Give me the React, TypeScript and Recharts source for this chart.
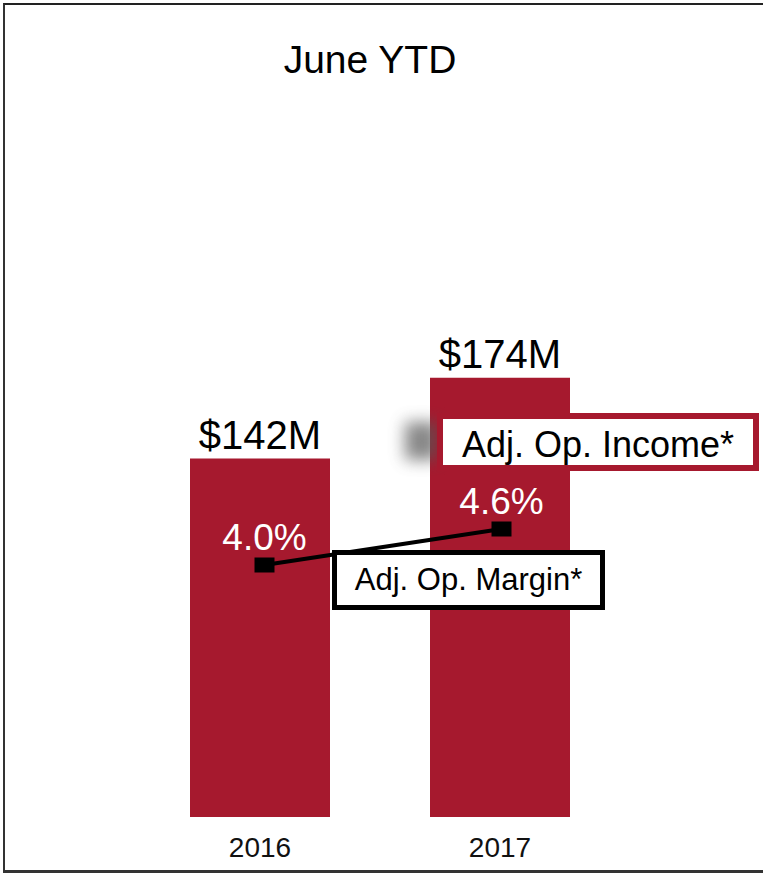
import React from 'react';
import {
  ComposedChart,
  Bar,
  Line,
  XAxis,
  YAxis,
  LabelList,
} from 'recharts';

const YEARS = ['2016', '2017'];
const OP_INCOME = [142, 174]; // $M
const OP_MARGIN = [4.0, 4.6]; // %

const TITLE = 'June YTD';
const INCOME_LABEL = 'Adj. Op. Income*';
const MARGIN_LABEL = 'Adj. Op. Margin*';

const RED = '#A6192E';
const FONT = "'Liberation Sans', Arial, sans-serif";

const data = YEARS.map((year, i) => ({
  year,
  income: OP_INCOME[i],
  margin: OP_MARGIN[i],
}));

const SquareDot = (props: any) => {
  const { cx, cy, index } = props;
  return <rect key={`dot-${index}`} x={cx - 10} y={cy - 7.5} width={20} height={15} fill="#000" />;
};

export default function App() {
  return (
    <div style={{ position: 'absolute', left: 0, top: 0, width: 763, height: 873, background: '#fff', fontFamily: FONT }}>
      <ComposedChart
        width={763}
        height={873}
        data={data}
        margin={{ top: 100, right: 143, bottom: 0, left: 140 }}
      >
        <XAxis
          dataKey="year"
          height={56}
          axisLine={false}
          tickLine={false}
          tick={{ fontSize: 28, fill: '#111', fontFamily: "'Liberation Sans Narrow', 'Liberation Sans', Arial" }}
          tickMargin={14}
        />
        <XAxis dataKey="year" xAxisId="line" hide padding={{ left: 6, right: 0 }} />
        <YAxis yAxisId="amt" hide domain={[0, 284]} />
        <YAxis yAxisId="pct" hide orientation="right" domain={[-0.2, 11.75]} />
        <Bar dataKey="income" yAxisId="amt" fill={RED} barSize={140} isAnimationActive={false}>
          <LabelList
            dataKey="income"
            position="top"
            offset={10}
            formatter={(v: any) => `$${v}M`}
            style={{ fontSize: 40, fill: '#000', fontFamily: FONT }}
          />
        </Bar>
        <Line
          dataKey="margin"
          yAxisId="pct"
          xAxisId="line"
          stroke="#000"
          strokeWidth={4}
          dot={SquareDot}
          activeDot={false}
          isAnimationActive={false}
        >
          <LabelList
            dataKey="margin"
            position="top"
            offset={15}
            formatter={(v: any) => `${Number(v).toFixed(1)}%`}
            style={{ fontSize: 37, fill: '#fff', fontFamily: FONT }}
          />
        </Line>
      </ComposedChart>

      {/* frame */}
      <div
        style={{
          position: 'absolute',
          left: 3,
          top: 3,
          width: 760,
          height: 870,
          boxSizing: 'border-box',
          borderTop: '2px solid #222',
          borderLeft: '2px solid #333',
          borderBottom: '3px solid #333',
          pointerEvents: 'none',
        }}
      />

      {/* title */}
      <div
        style={{
          position: 'absolute',
          left: 170,
          width: 400,
          top: 40,
          textAlign: 'center',
          fontSize: 39,
          lineHeight: '39px',
          color: '#000',
        }}
      >
        {TITLE}
      </div>

      {/* legend: income */}
      <div
        style={{
          position: 'absolute',
          left: 405,
          top: 422,
          width: 34,
          height: 38,
          background: '#555',
          filter: 'blur(8px)',
          opacity: 0.7,
        }}
      />
      <div
        style={{
          position: 'absolute',
          left: 437,
          top: 413,
          width: 322,
          height: 58,
          boxSizing: 'border-box',
          border: `6px solid ${RED}`,
          background: '#fff',
          display: 'flex',
          alignItems: 'center',
          justifyContent: 'center',
          paddingTop: 6,
          fontSize: 36,
          color: '#000',
        }}
      >
        {INCOME_LABEL}
      </div>

      {/* legend: margin */}
      <div
        style={{
          position: 'absolute',
          left: 332,
          top: 550,
          width: 273,
          height: 60,
          boxSizing: 'border-box',
          border: '5px solid #000',
          background: '#fff',
          display: 'flex',
          alignItems: 'center',
          justifyContent: 'center',
          fontSize: 31,
          color: '#000',
        }}
      >
        {MARGIN_LABEL}
      </div>
    </div>
  );
}
